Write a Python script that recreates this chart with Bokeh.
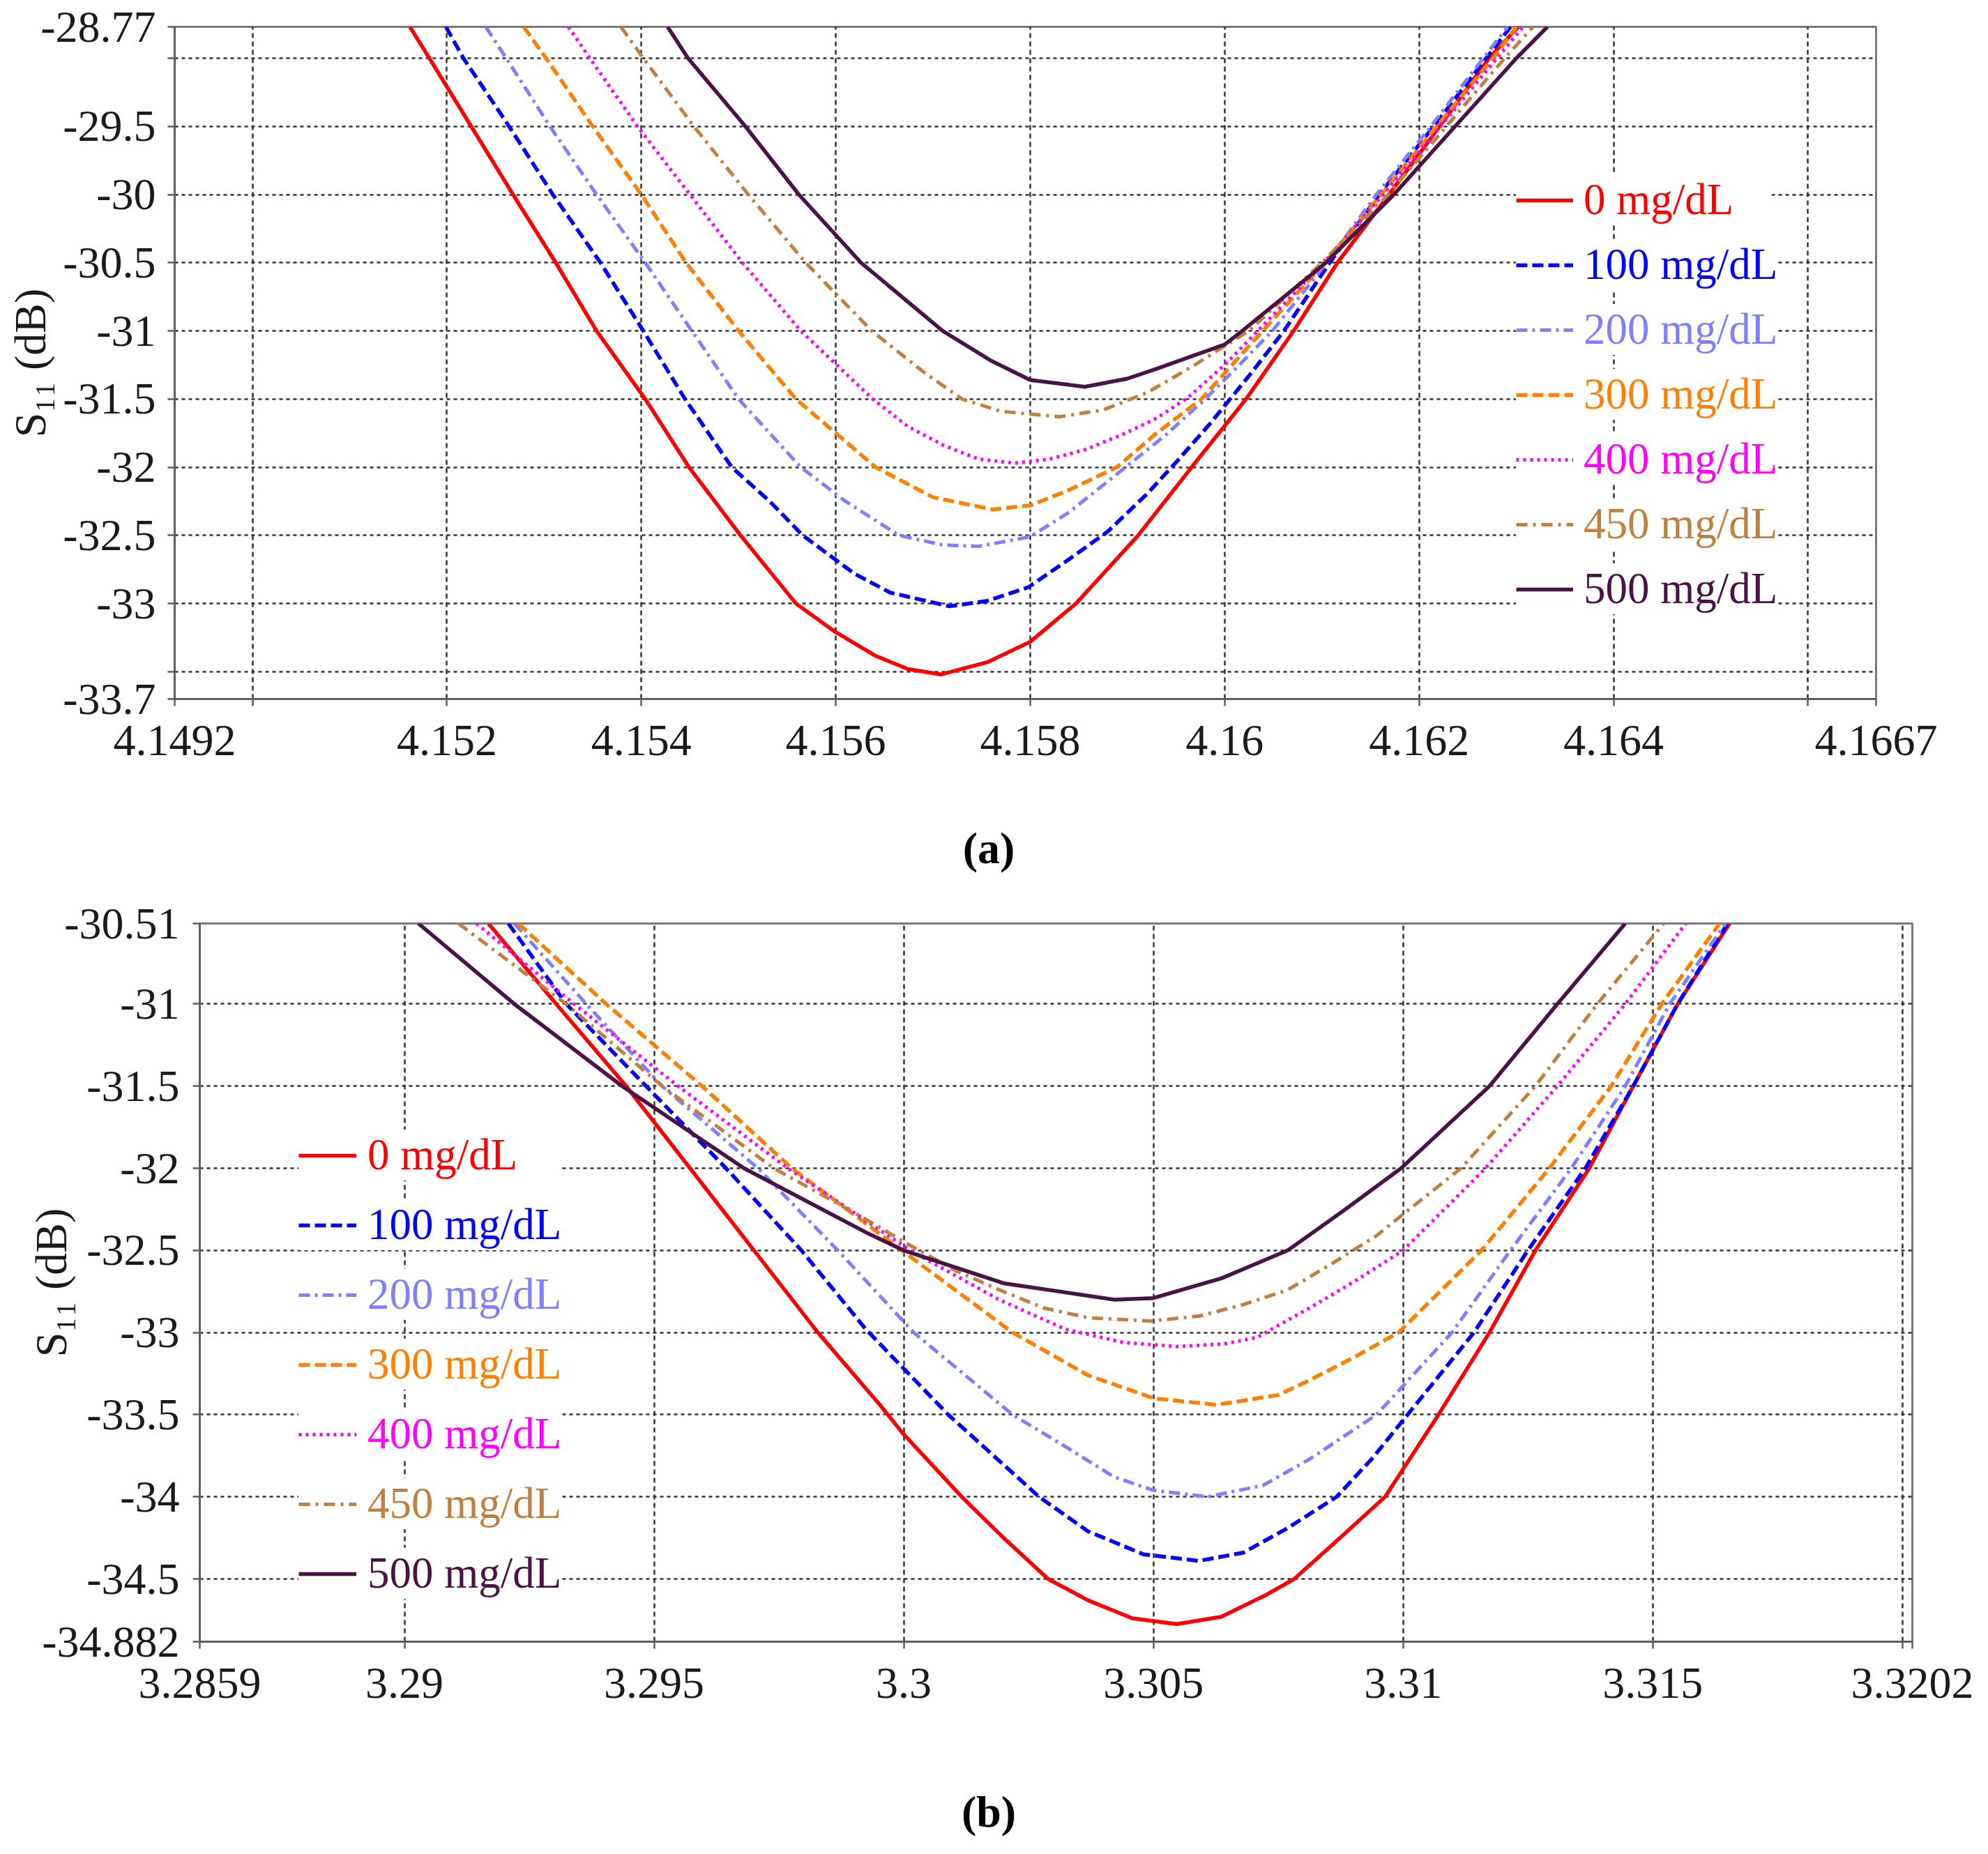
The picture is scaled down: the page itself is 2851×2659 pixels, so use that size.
from bokeh.plotting import figure
from bokeh.models import Range1d, FixedTicker, Legend, LegendItem
from bokeh.layouts import column
from bokeh.embed import file_html
from bokeh.resources import INLINE

# ---------------- data ----------------
LABELS = ["0 mg/dL", "100 mg/dL", "200 mg/dL", "300 mg/dL", "400 mg/dL", "450 mg/dL", "500 mg/dL"]

# panel (a)
A0_X = [4.15162, 4.15182, 4.15225, 4.15268, 4.15312, 4.15354, 4.15404, 4.15449, 4.15502, 4.15559, 4.15600, 4.15640,
        4.15674, 4.15708, 4.15756, 4.15800, 4.15847, 4.15911, 4.15966, 4.16022, 4.16071, 4.16116, 4.16169, 4.16221,
        4.16272, 4.16302]
A0_Y = [-28.77, -29.0, -29.5, -30.0, -30.5, -31.0, -31.5, -32.0, -32.5, -33.0, -33.21, -33.38,
        -33.48, -33.52, -33.43, -33.28, -33.0, -32.5, -32.0, -31.5, -31.0, -30.5, -30.0, -29.5,
        -29.0, -28.77]
A1_X = [4.15199, 4.15217, 4.15264, 4.15309, 4.15358, 4.15402, 4.15445, 4.15493, 4.15532, 4.15566, 4.15619, 4.15656,
        4.15717, 4.15756, 4.15798, 4.15839, 4.15880, 4.15921, 4.15953, 4.15985, 4.16025, 4.16061, 4.16108, 4.16159,
        4.16215, 4.16269, 4.16294]
A1_Y = [-28.77, -29.0, -29.5, -30.0, -30.5, -31.0, -31.5, -32.0, -32.25, -32.5, -32.78, -32.92,
        -33.02, -32.98, -32.88, -32.68, -32.47, -32.19, -31.94, -31.68, -31.33, -31.0, -30.5, -30.0,
        -29.5, -29.0, -28.77]
A2_X = [4.15240, 4.15261, 4.15306, 4.15354, 4.15404, 4.15452, 4.15500, 4.15564, 4.15610, 4.15665, 4.15710, 4.15747,
        4.15800, 4.15840, 4.15898, 4.15940, 4.15980, 4.16015, 4.16049, 4.16105, 4.16156, 4.16212, 4.16266, 4.16291]
A2_Y = [-28.77, -29.0, -29.5, -30.0, -30.5, -31.0, -31.5, -32.0, -32.25, -32.5, -32.57, -32.58,
        -32.51, -32.33, -32.0, -31.76, -31.5, -31.25, -31.0, -30.5, -30.0, -29.5, -29.0, -28.77]
A3_X = [4.15279, 4.15302, 4.15350, 4.15400, 4.15446, 4.15500, 4.15559, 4.15641, 4.15700, 4.15761, 4.15800, 4.15839,
        4.15889, 4.15930, 4.15976, 4.16039, 4.16103, 4.16161, 4.16218, 4.16276, 4.16300]
A3_Y = [-28.77, -29.0, -29.5, -30.0, -30.5, -31.0, -31.5, -32.0, -32.22, -32.31, -32.28, -32.17,
        -32.0, -31.75, -31.5, -31.0, -30.5, -30.0, -29.5, -29.0, -28.77]
A4_X = [4.15325, 4.15347, 4.15396, 4.15450, 4.15504, 4.15564, 4.15638, 4.15674, 4.15711, 4.15747, 4.15784, 4.15820,
        4.15857, 4.15898, 4.15930, 4.15962, 4.16000, 4.16034, 4.16102, 4.16163, 4.16222, 4.16280, 4.16307]
A4_Y = [-28.77, -29.0, -29.5, -30.0, -30.5, -31.0, -31.5, -31.70, -31.84, -31.94, -31.97, -31.94,
        -31.87, -31.75, -31.64, -31.49, -31.25, -31.0, -30.5, -30.0, -29.5, -29.0, -28.77]
A5_X = [4.15379, 4.15402, 4.15454, 4.15510, 4.15569, 4.15637, 4.15690, 4.15730, 4.15770, 4.15830, 4.15875, 4.15921,
        4.15967, 4.16000, 4.16025, 4.16100, 4.16168, 4.16228, 4.16288, 4.16317]
A5_Y = [-28.77, -29.0, -29.5, -30.0, -30.5, -31.0, -31.3, -31.5, -31.59, -31.63, -31.58, -31.45,
        -31.26, -31.11, -31.0, -30.5, -30.0, -29.5, -29.0, -28.77]
A6_X = [4.15427, 4.15448, 4.15507, 4.15562, 4.15626, 4.15710, 4.15760, 4.15800, 4.15856, 4.15900, 4.15929, 4.16000,
        4.16018, 4.16104, 4.16174, 4.16237, 4.16300, 4.16332]
A6_Y = [-28.77, -29.0, -29.5, -30.0, -30.5, -31.0, -31.22, -31.36, -31.41, -31.35, -31.28, -31.10,
        -31.0, -30.5, -30.0, -29.5, -29.0, -28.77]

# panel (b)
B0_X = [3.29168, 3.29304, 3.29444, 3.29572, 3.29700, 3.29828, 3.29952, 3.30000, 3.30116, 3.30200, 3.30289, 3.30369,
        3.30458, 3.30547, 3.30636, 3.30724, 3.30782, 3.30870, 3.30964, 3.31071, 3.31173, 3.31265, 3.31373, 3.31461,
        3.31550, 3.31654]
B0_Y = [-30.51, -31.0, -31.5, -32.0, -32.5, -33.0, -33.44, -33.62, -34.0, -34.25, -34.5, -34.63,
        -34.74, -34.775, -34.73, -34.6, -34.5, -34.26, -34.0, -33.5, -33.0, -32.5, -32.0, -31.5,
        -31.0, -30.51]
B1_X = [3.29208, 3.29324, 3.29484, 3.29644, 3.29795, 3.29924, 3.30000, 3.30089, 3.30271, 3.30369, 3.30480, 3.30591,
        3.30680, 3.30769, 3.30867, 3.30940, 3.31009, 3.31142, 3.31250, 3.31365, 3.31461, 3.31550, 3.31650]
B1_Y = [-30.51, -31.0, -31.5, -32.0, -32.5, -32.98, -33.22, -33.5, -34.0, -34.21, -34.35, -34.39,
        -34.34, -34.19, -34.0, -33.76, -33.5, -33.0, -32.5, -32.0, -31.5, -31.0, -30.51]
B2_X = [3.29220, 3.29364, 3.29516, 3.29708, 3.29868, 3.30020, 3.30218, 3.30316, 3.30422, 3.30500, 3.30609, 3.30720,
        3.30813, 3.30947, 3.31098, 3.31215, 3.31337, 3.31445, 3.31534, 3.31646]
B2_Y = [-30.51, -31.0, -31.5, -32.0, -32.5, -33.0, -33.5, -33.68, -33.88, -33.96, -34.0, -33.93,
        -33.77, -33.5, -33.0, -32.5, -32.0, -31.5, -31.0, -30.51]
B3_X = [3.29228, 3.29404, 3.29596, 3.29776, 3.29996, 3.30218, 3.30369, 3.30500, 3.30627, 3.30750, 3.30813, 3.30902,
        3.30991, 3.31157, 3.31293, 3.31417, 3.31518, 3.31634]
B3_Y = [-30.51, -31.0, -31.5, -32.0, -32.5, -33.0, -33.26, -33.40, -33.44, -33.38, -33.29, -33.15,
        -33.0, -32.5, -32.0, -31.5, -31.0, -30.51]
B4_X = [3.29144, 3.29340, 3.29548, 3.29768, 3.30013, 3.30191, 3.30324, 3.30440, 3.30547, 3.30640, 3.30707, 3.30813,
        3.30902, 3.31000, 3.31165, 3.31309, 3.31445, 3.31566]
B4_Y = [-30.51, -31.0, -31.5, -32.0, -32.5, -32.80, -32.98, -33.06, -33.085, -33.07, -33.03, -32.85,
        -32.69, -32.5, -32.0, -31.5, -31.0, -30.51]
B5_X = [3.29108, 3.29324, 3.29516, 3.29740, 3.29924, 3.30013, 3.30102, 3.30191, 3.30280, 3.30369, 3.30493, 3.30591,
        3.30680, 3.30769, 3.30858, 3.30947, 3.31000, 3.31116, 3.31265, 3.31389, 3.31522]
B5_Y = [-30.51, -31.0, -31.5, -32.0, -32.31, -32.47, -32.62, -32.74, -32.85, -32.91, -32.93, -32.90,
        -32.83, -32.74, -32.58, -32.41, -32.28, -32.0, -31.5, -31.0, -30.51]
B6_X = [3.29028, 3.29220, 3.29436, 3.29680, 3.29924, 3.30000, 3.30200, 3.30422, 3.30500, 3.30636, 3.30769, 3.30880,
        3.30996, 3.31173, 3.31309, 3.31445]
B6_Y = [-30.51, -31.0, -31.5, -32.0, -32.39, -32.5, -32.70, -32.80, -32.79, -32.67, -32.5, -32.26,
        -32.0, -31.5, -31.0, -30.51]

# axes
A_XRANGE = (4.1492, 4.1667)
A_YRANGE = (-33.7, -28.77)
A_XTICKS = [4.1492, 4.150, 4.152, 4.154, 4.156, 4.158, 4.160, 4.162, 4.164, 4.166, 4.1667]
A_XLABELS = ["4.1492", "", "4.152", "4.154", "4.156", "4.158", "4.16", "4.162", "4.164", "", "4.1667"]
A_YTICKS = [-33.7, -33.5, -33.0, -32.5, -32.0, -31.5, -31.0, -30.5, -30.0, -29.5, -29.0, -28.77]
A_YLABELS = ["-33.7", "", "-33", "-32.5", "-32", "-31.5", "-31", "-30.5", "-30", "-29.5", "", "-28.77"]

B_XRANGE = (3.2859, 3.3202)
B_YRANGE = (-34.882, -30.51)
B_XTICKS = [3.2859, 3.29, 3.295, 3.3, 3.305, 3.31, 3.315, 3.32, 3.3202]
B_XLABELS = ["3.2859", "3.29", "3.295", "3.3", "3.305", "3.31", "3.315", "", "3.3202"]
B_YTICKS = [-34.882, -34.5, -34.0, -33.5, -33.0, -32.5, -32.0, -31.5, -31.0, -30.51]
B_YLABELS = ["-34.882", "-34.5", "-34", "-33.5", "-33", "-32.5", "-32", "-31.5", "-31", "-30.51"]

# ---------------- style ----------------
FONT = "Liberation Serif"
FS = "64px"
LFS = "63px"
COLORS = ["#ff0000", "#0000ff", "#8080ff", "#ff8000", "#ff00ff", "#c08040", "#4b1248"]
DASHES = ["solid", "16 7", "16 7 4 7", "16 7", "4 6", "16 8 4 8", "solid"]
WIDTHS = [5.5, 5.5, 5, 5.5, 5, 5, 5.5]
W = 2835
TEXT = "#1a1a1a"
AXC = "#5f5f5f"


def make_panel(series, xr, yr, xt, xl, yt, yl, height, mb, x_std, y_std, ylab_std, leg):
    p = figure(width=W, height=height, x_range=Range1d(*xr), y_range=Range1d(*yr),
               output_backend="svg", toolbar_location=None,
               min_border_left=mb[0], min_border_right=mb[1], min_border_top=mb[2], min_border_bottom=mb[3])
    p.frame_align = False
    p.background_fill_color = "white"
    p.border_fill_color = "white"
    p.outline_line_color = "#7a7a7a"
    p.outline_line_width = 3

    p.xaxis.ticker = FixedTicker(ticks=xt, minor_ticks=[])
    p.yaxis.ticker = FixedTicker(ticks=yt, minor_ticks=[])
    p.xaxis.major_label_overrides = {t: s for t, s in zip(xt, xl)}
    p.yaxis.major_label_overrides = {t: s for t, s in zip(yt, yl)}
    for ax in (p.xaxis[0], p.yaxis[0]):
        ax.axis_line_color = AXC
        ax.axis_line_width = 3
        ax.major_tick_line_color = AXC
        ax.major_tick_line_width = 2.5
        ax.major_tick_out = 10
        ax.major_tick_in = 0
        ax.minor_tick_line_color = None
        ax.major_label_text_font = FONT
        ax.major_label_text_font_size = FS
        ax.major_label_text_color = TEXT
    p.xaxis.major_label_standoff = x_std
    p.yaxis.major_label_standoff = y_std
    p.yaxis.axis_label = "S\u2081\u2081 (dB)"
    p.yaxis.axis_label_text_font = FONT
    p.yaxis.axis_label_text_font_size = FS
    p.yaxis.axis_label_text_font_style = "normal"
    p.yaxis.axis_label_text_color = TEXT
    p.yaxis.axis_label_standoff = ylab_std

    p.xgrid.grid_line_color = "#333333"
    p.xgrid.grid_line_dash = "7 5"
    p.xgrid.grid_line_width = 2.5
    p.ygrid.grid_line_color = "#333333"
    p.ygrid.grid_line_dash = "5 5"
    p.ygrid.grid_line_width = 2.5

    rends = []
    for i, (xs, ys) in enumerate(series):
        r = p.line(xs, ys, line_color=COLORS[i], line_width=WIDTHS[i], line_dash=DASHES[i])
        rends.append(r)

    vx, vy0, pitch, pad, gw, lw, ls = leg
    for i, r in enumerate(rends):
        lg = Legend(items=[LegendItem(label=LABELS[i], renderers=[r])],
                    location=(vx, vy0 - pitch * i), orientation="vertical",
                    padding=pad, spacing=0, margin=0,
                    border_line_color=None, background_fill_color="white", background_fill_alpha=1.0,
                    glyph_width=gw, glyph_height=66, label_height=66, label_width=lw,
                    label_standoff=ls, label_text_font=FONT, label_text_font_size=LFS,
                    label_text_color=COLORS[i], label_text_baseline="middle")
        p.add_layout(lg)
    return p


def caption(text, height, top):
    c = figure(width=W, height=height, output_backend="svg", toolbar_location=None,
               x_axis_type=None, y_axis_type=None,
               min_border_left=0, min_border_right=0, min_border_top=top, min_border_bottom=0)
    c.frame_align = False
    c.outline_line_color = None
    c.background_fill_color = "white"
    c.border_fill_color = "white"
    c.title.text = text
    c.title.align = "center"
    c.title.text_font = FONT
    c.title.text_font_size = FS
    c.title.text_font_style = "bold"
    c.title.text_color = "black"
    return c


series_a = [(A0_X, A0_Y), (A1_X, A1_Y), (A2_X, A2_Y), (A3_X, A3_Y), (A4_X, A4_Y), (A5_X, A5_Y), (A6_X, A6_Y)]
series_b = [(B0_X, B0_Y), (B1_X, B1_Y), (B2_X, B2_Y), (B3_X, B3_Y), (B4_X, B4_Y), (B5_X, B5_Y), (B6_X, B6_Y)]

pa = make_panel(series_a, A_XRANGE, A_YRANGE, A_XTICKS, A_XLABELS, A_YTICKS, A_YLABELS,
                1117, (250, 145, 38, 115), 28, 17, -24, (1924, 679, 93, 14, 82, 270, 15))
ca = caption("(a)", 155, 139)
pb = make_panel(series_b, B_XRANGE, B_YRANGE, B_XTICKS, B_XLABELS, B_YTICKS, B_YLABELS,
                1197, (286, 93, 52, 115), 28, 19, -52, (142, 661, 100, 17, 83, 276, 16))
cb = caption("(b)", 172, 169)

layout = column(pa, ca, pb, cb, spacing=0)
open("out.html", "w").write(file_html(layout, INLINE))
